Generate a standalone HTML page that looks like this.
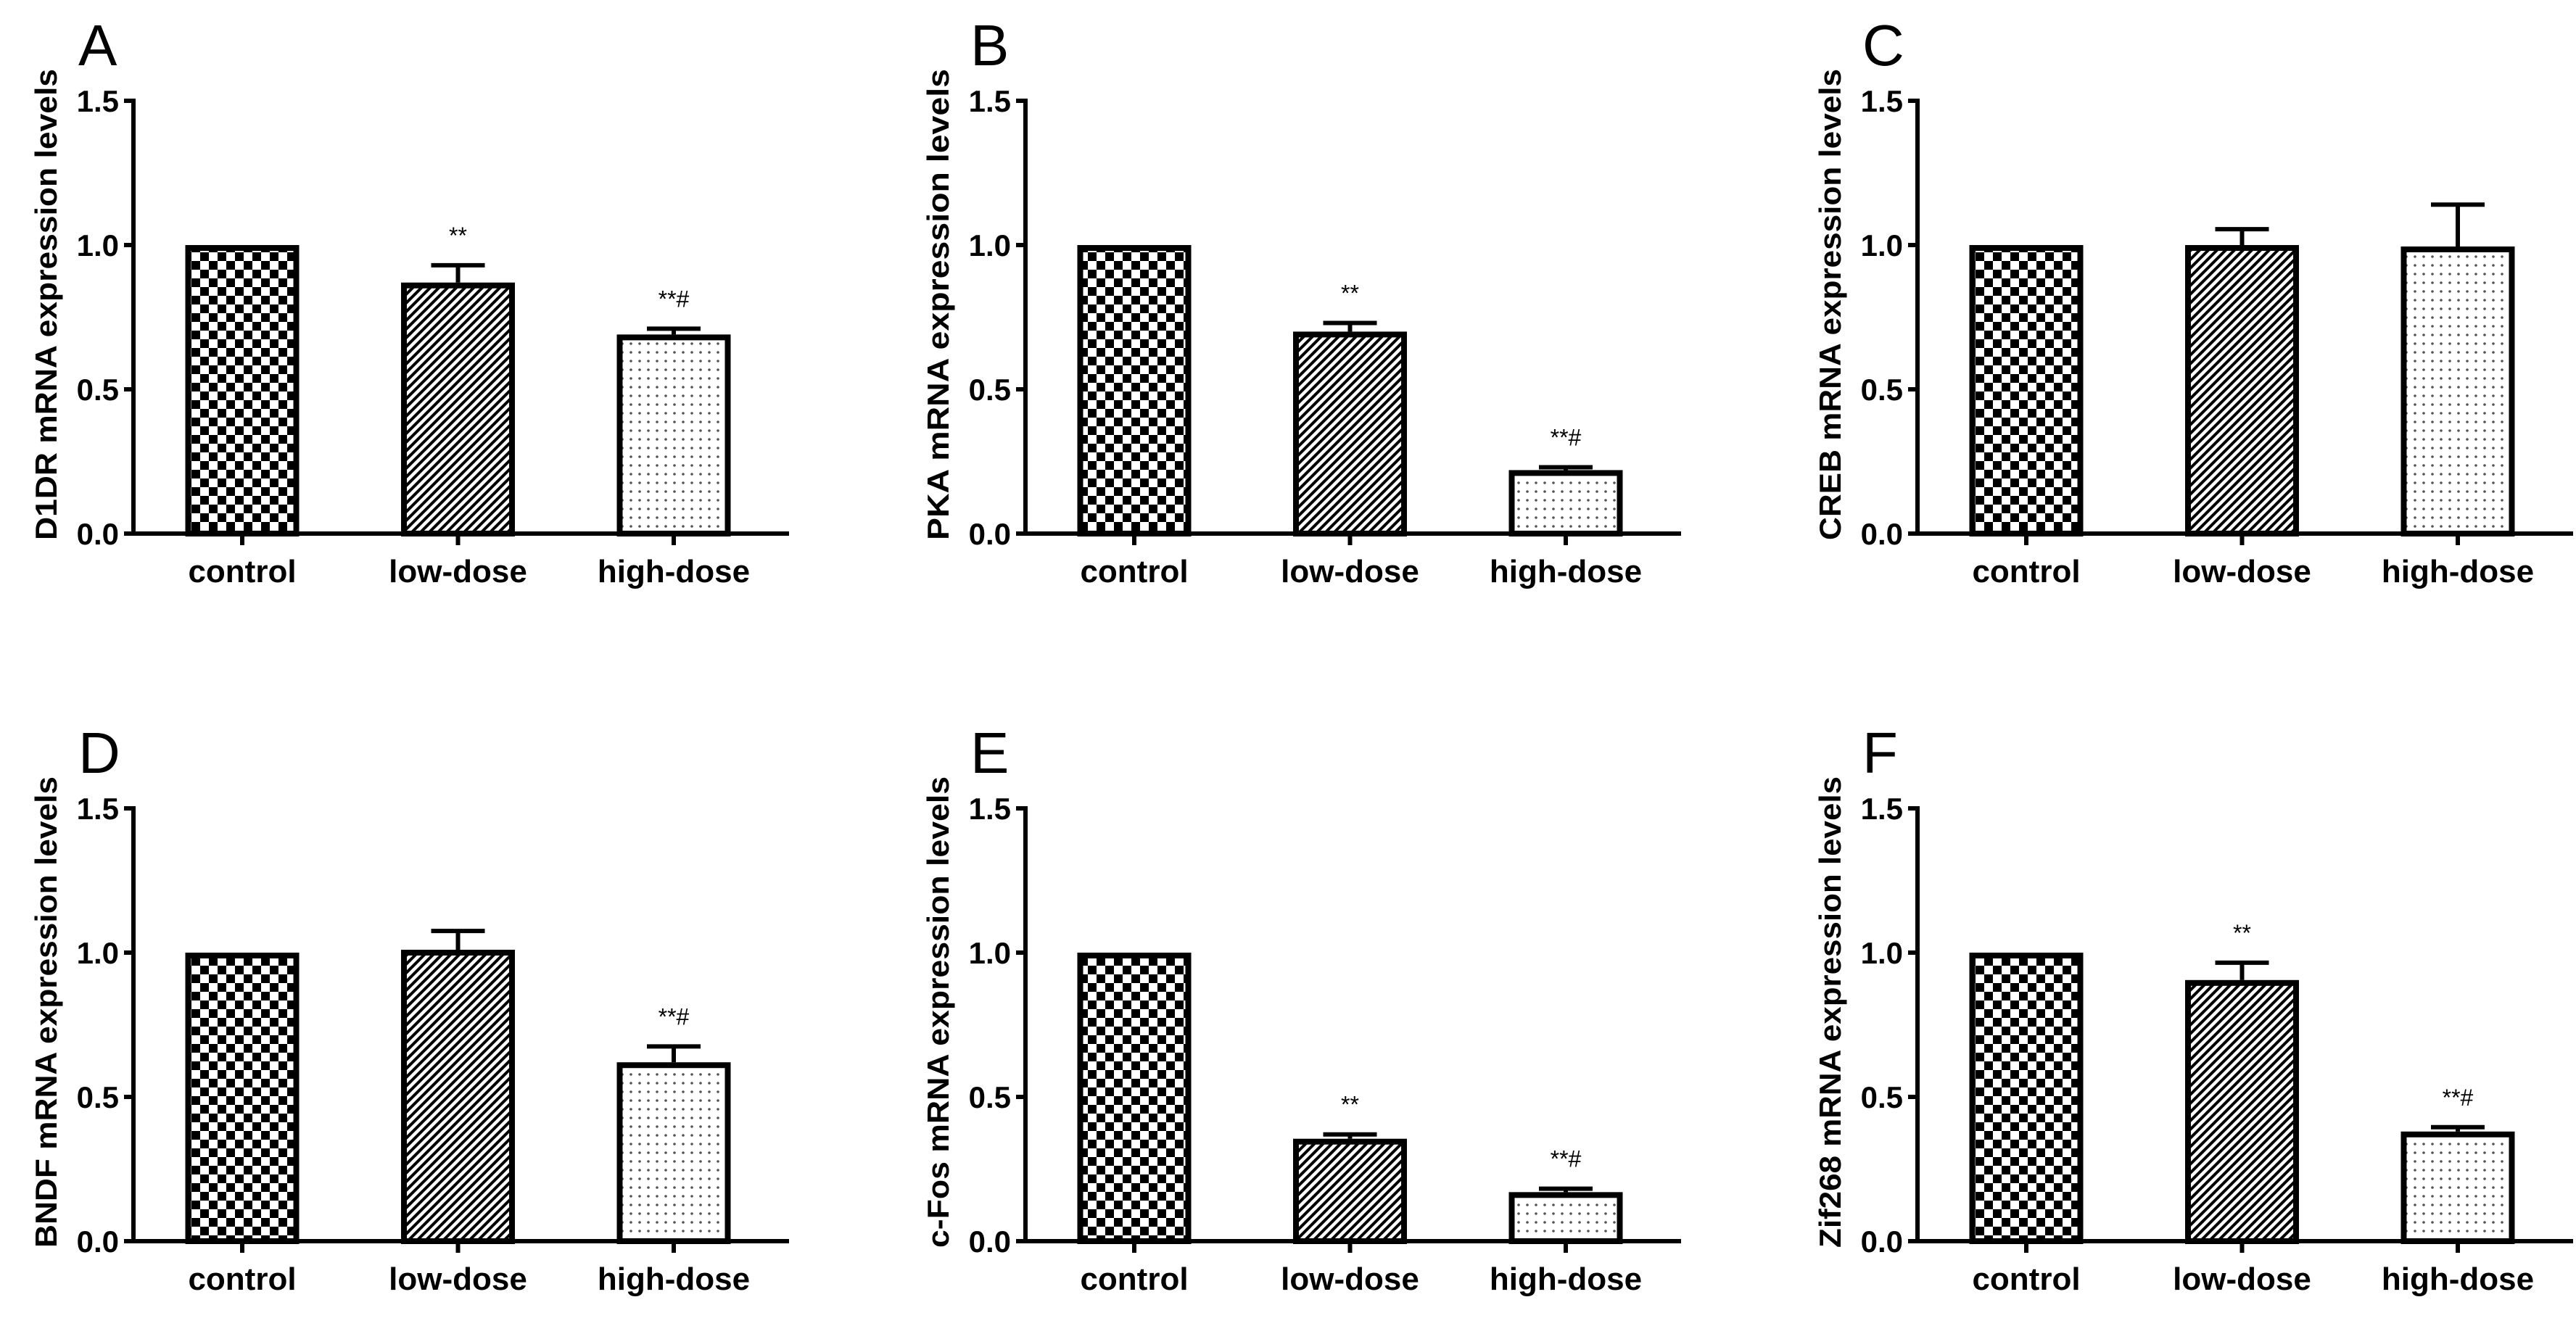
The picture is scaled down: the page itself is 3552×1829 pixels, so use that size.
<!DOCTYPE html>
<html><head><meta charset="utf-8"><style>
html,body{margin:0;padding:0;background:#fff;}
svg{display:block;}
text{font-family:"Liberation Sans",Arial,sans-serif;}
</style></head><body>
<svg id="fig" width="3552" height="1829" viewBox="0 0 3552 1829" xmlns="http://www.w3.org/2000/svg">
<defs>
<pattern id="pCheck" patternUnits="userSpaceOnUse" width="24" height="24">
<rect width="24" height="24" fill="#fff"/><rect x="0" y="0" width="12" height="12" fill="#000"/><rect x="12" y="12" width="12" height="12" fill="#000"/>
</pattern>
<pattern id="pDiag" patternUnits="userSpaceOnUse" width="12" height="12">
<rect width="12" height="12" fill="#000"/><path d="M-3,15 L15,-3 M-3,3 L3,-3 M9,15 L15,9" stroke="#fff" stroke-width="4.5"/>
</pattern>
<pattern id="pDot" patternUnits="userSpaceOnUse" width="24" height="24">
<rect width="24" height="24" fill="#fff"/><circle cx="6" cy="6" r="1.8" fill="#555"/><circle cx="18" cy="18" r="1.8" fill="#555"/><circle cx="18" cy="6" r="1.8" fill="#555"/><circle cx="6" cy="18" r="1.8" fill="#555"/>
</pattern>
</defs>
</svg>
<script>
const categories = ["control","low-dose","high-dose"];
const panelLetters = ["A","B","C","D","E","F"];
const genes = ["D1DR","PKA","CREB","BNDF","c-Fos","Zif268"];
const meansA = [1.0, 0.87, 0.69];
const errsA  = [0.0, 0.06, 0.02];
const meansB = [1.0, 0.70, 0.22];
const errsB  = [0.0, 0.03, 0.01];
const meansC = [1.0, 1.00, 0.995];
const errsC  = [0.0, 0.055, 0.145];
const meansD = [1.0, 1.01, 0.62];
const errsD  = [0.0, 0.065, 0.055];
const meansE = [1.0, 0.355, 0.17];
const errsE  = [0.0, 0.015, 0.012];
const meansF = [1.0, 0.905, 0.38];
const errsF  = [0.0, 0.06, 0.015];
const sigA = ["", "**", "**#"];
const sigB = ["", "**", "**#"];
const sigC = ["", "", ""];
const sigD = ["", "", "**#"];
const sigE = ["", "**", "**#"];
const sigF = ["", "**", "**#"];
const yTicks = [0, 0.5, 1.0, 1.5];
const yTickLabels = ["0.0","0.5","1.0","1.5"];

const allMeans=[meansA,meansB,meansC,meansD,meansE,meansF];
const allErrs=[errsA,errsB,errsC,errsD,errsE,errsF];
const allSig=[sigA,sigB,sigC,sigD,sigE,sigF];
const fills=["url(#pCheck)","url(#pDiag)","url(#pDot)"];
const NS="http://www.w3.org/2000/svg";
const svg=document.getElementById("fig");
function mk(tag,attrs,parent){const e=document.createElementNS(NS,tag);for(const k in attrs)e.setAttribute(k,attrs[k]);(parent||svg).appendChild(e);return e;}

for(let p=0;p<6;p++){
  const ox=(p%3)*1230, oy=Math.floor(p/3)*976;
  const g=mk("g",{});
  
  
  const axX=184+ox, y0=736+oy, perUnit=398;
  const yS=v=>y0-v*perUnit;
  const xS=i=>334+ox+i*297.5;
  const axRight=1088+ox;
  const L=mk("text",{x:108+ox,y:90+oy,"font-size":80},g);L.textContent=panelLetters[p];
  
  
  const yt=mk("text",{x:0,y:0,"font-size":42,"font-weight":"bold","text-anchor":"middle",transform:`translate(${78+ox},${420+oy}) rotate(-90)`,textLength:650,lengthAdjust:"spacingAndGlyphs"},g);
  yt.textContent=genes[p]+" mRNA expression levels";
  
  
  // bars
  for(let i=0;i<3;i++){
    const v=allMeans[p][i], e=allErrs[p][i], cx=xS(i);
    if(e>0){
      const ln=mk("line",{x1:cx,x2:cx,y1:yS(v),y2:yS(v+e),stroke:"#000","stroke-width":6},g);
      
      
      const cap=mk("line",{x1:cx-37,x2:cx+37,y1:yS(v+e),y2:yS(v+e),stroke:"#000","stroke-width":6},g);
      
      
    }
    const r=mk("rect",{x:cx-74.5,y:yS(v)+4,width:149,height:Math.max(0,v*perUnit-4),fill:fills[i],stroke:"#000","stroke-width":8},g);
    
    
    const tk=mk("line",{x1:cx,x2:cx,y1:y0,y2:y0+16,stroke:"#000","stroke-width":6},g);
    
    
    const cl=mk("text",{x:cx,y:y0+67,"font-size":44,"font-weight":"bold","text-anchor":"middle"},g);
    cl.textContent=categories[i];
    
    
    if(allSig[p][i]){
      const s=mk("text",{x:cx,y:yS(v+e)-30,"font-size":32,"text-anchor":"middle"},g);
      s.textContent=allSig[p][i];
      
      
    }
  }
  const ya=mk("line",{x1:axX,x2:axX,y1:yS(1.5)-3,y2:y0+3,stroke:"#000","stroke-width":6},g);
  
  
  const xa=mk("line",{x1:axX-13,x2:axRight,y1:y0,y2:y0,stroke:"#000","stroke-width":6},g);
  
  
  for(let t=0;t<yTicks.length;t++){
    const ty=yS(yTicks[t]);
    const tl=mk("line",{x1:axX-13,x2:axX,y1:ty,y2:ty,stroke:"#000","stroke-width":6},g);
    
    
    const tt=mk("text",{x:axX-20,y:ty+15,"font-size":42,"font-weight":"bold","text-anchor":"end"},g);
    tt.textContent=yTickLabels[t];
    
    
  }
}
</script>
</body></html>
